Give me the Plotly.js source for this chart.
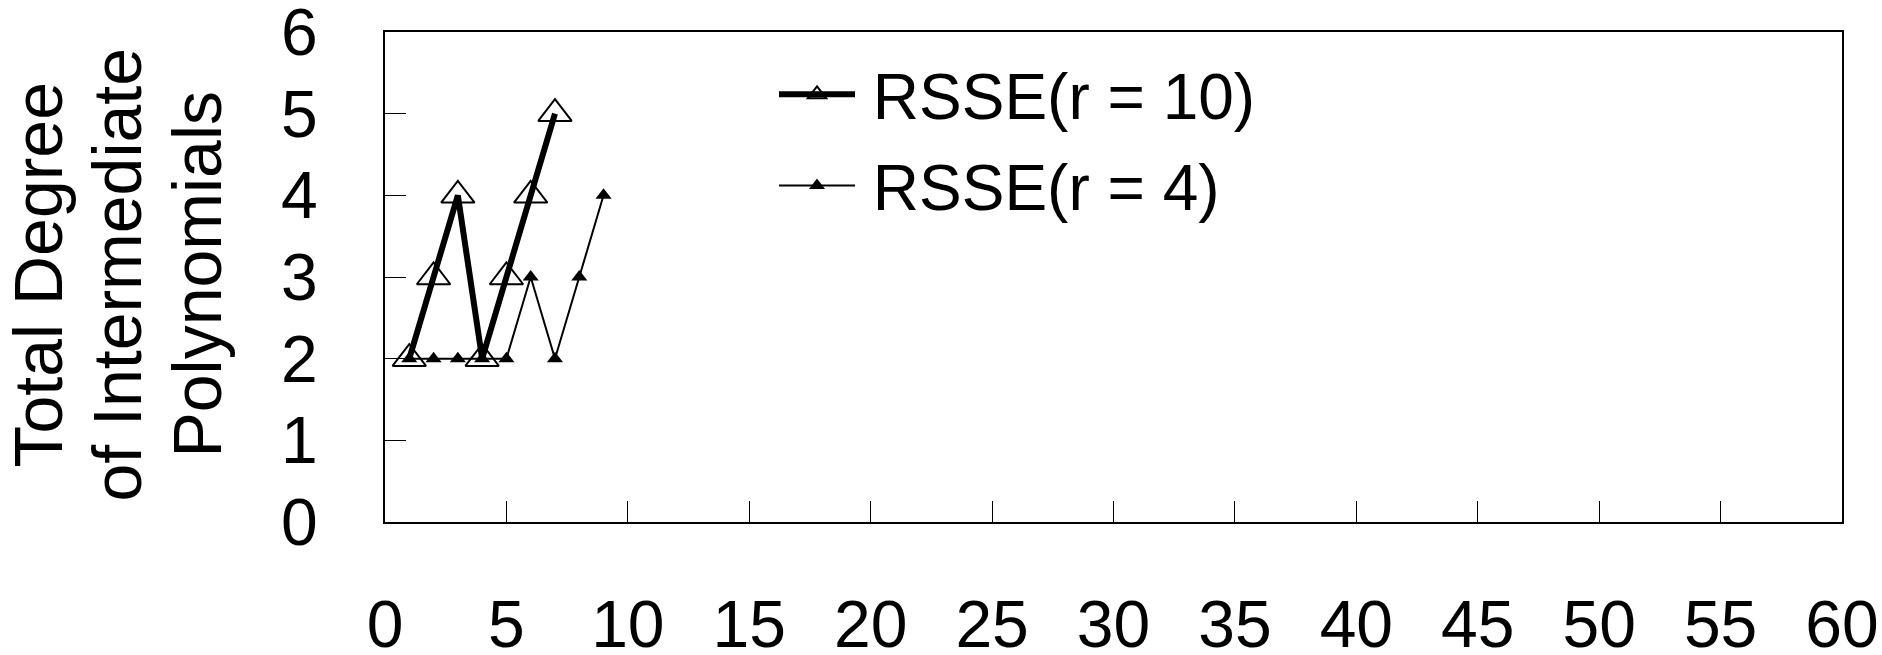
<!DOCTYPE html>
<html>
<head>
<meta charset="utf-8">
<script src="https://cdn.plot.ly/plotly-3.0.1.min.js"></script>
<style>html,body{margin:0;padding:0;background:#fff;}#chart{width:1882px;height:655px;}</style>
</head>
<body>
<div id="chart"></div>
<script>
const seriesNames = ["RSSE(r = 10)", "RSSE(r = 4)"];
const x_r10 = [1, 2, 3, 4, 5, 6, 7];
const y_r10 = [2, 3, 4, 2, 3, 4, 5];
const x_r4 = [1, 2, 3, 4, 5, 6, 7, 8, 9];
const y_r4 = [2, 2, 2, 2, 2, 3, 2, 3, 4];
const xTicks = [0, 5, 10, 15, 20, 25, 30, 35, 40, 45, 50, 55, 60];
const yTicks = [0, 1, 2, 3, 4, 5, 6];
const yTitleLines = ["Total Degree", "of Intermediate", "Polynomials"];

const FONT = "Arial, 'Liberation Sans', sans-serif";
const W = 1882, H = 655;
const M = {l: 385, r: 40, t: 32, b: 133};
const plotW = W - M.l - M.r;

// y-title line centres (px from left edge) converted to paper coords
const titleCentersPx = [38, 117, 197];

const traces = [
  {
    x: x_r10, y: y_r10, name: "\u2009" + seriesNames[0], legendgroup: "a", type: "scatter", mode: "lines+markers",
    line: {color: "#000", width: 6},
    marker: {symbol: "triangle-up-open", size: 29, color: "#000", line: {width: 2, color: "#000"}}
  },
  {
    x: x_r4, y: y_r4, name: "\u2009" + seriesNames[1], legendgroup: "b", type: "scatter", mode: "lines+markers",
    line: {color: "#000", width: 2},
    marker: {symbol: "triangle-up", size: 14, color: "#000"}
  }
];

const layout = {
  width: W, height: H,
  margin: {l: M.l, r: M.r, t: M.t, b: M.b, pad: 0},
  paper_bgcolor: "#fff", plot_bgcolor: "#fff",
  font: {family: FONT, color: "#000", size: 66},
  showlegend: true,
  legend: {
    x: 0.267, y: 0.971, xanchor: "left", yanchor: "top",
    bgcolor: "rgba(0,0,0,0)", borderwidth: 0,
    font: {family: FONT, size: 64, color: "#000"},
    itemwidth: 76, tracegroupgap: 5
  },
  xaxis: {
    range: [0, 60], tickvals: xTicks, ticktext: xTicks.map(String),
    ticks: "inside", ticklen: 21, tickwidth: 1, tickcolor: "#000",
    showline: true, linecolor: "#000", linewidth: 2, mirror: true,
    showgrid: false, zeroline: false,
    tickfont: {family: FONT, size: 66},
    ticklabelstandoff: 44, ticklabeloverflow: "allow"
  },
  yaxis: {
    range: [0, 6], tickvals: yTicks, ticktext: yTicks.map(String),
    ticks: "inside", ticklen: 21, tickwidth: 1, tickcolor: "#000",
    showline: true, linecolor: "#000", linewidth: 2, mirror: true,
    showgrid: false, zeroline: false,
    tickfont: {family: FONT, size: 66},
    ticklabelstandoff: 52, ticklabeloverflow: "allow"
  },
  annotations: yTitleLines.map((t, i) => ({
    text: t, textangle: -90, showarrow: false,
    xref: "paper", yref: "paper",
    x: (titleCentersPx[i] - M.l) / plotW, y: 0.505,
    xanchor: "center", yanchor: "middle",
    font: {family: FONT, size: 68, color: "#000"}
  }))
};

Plotly.newPlot("chart", traces, layout, {displayModeBar: false, staticPlot: true});
</script>
</body>
</html>
